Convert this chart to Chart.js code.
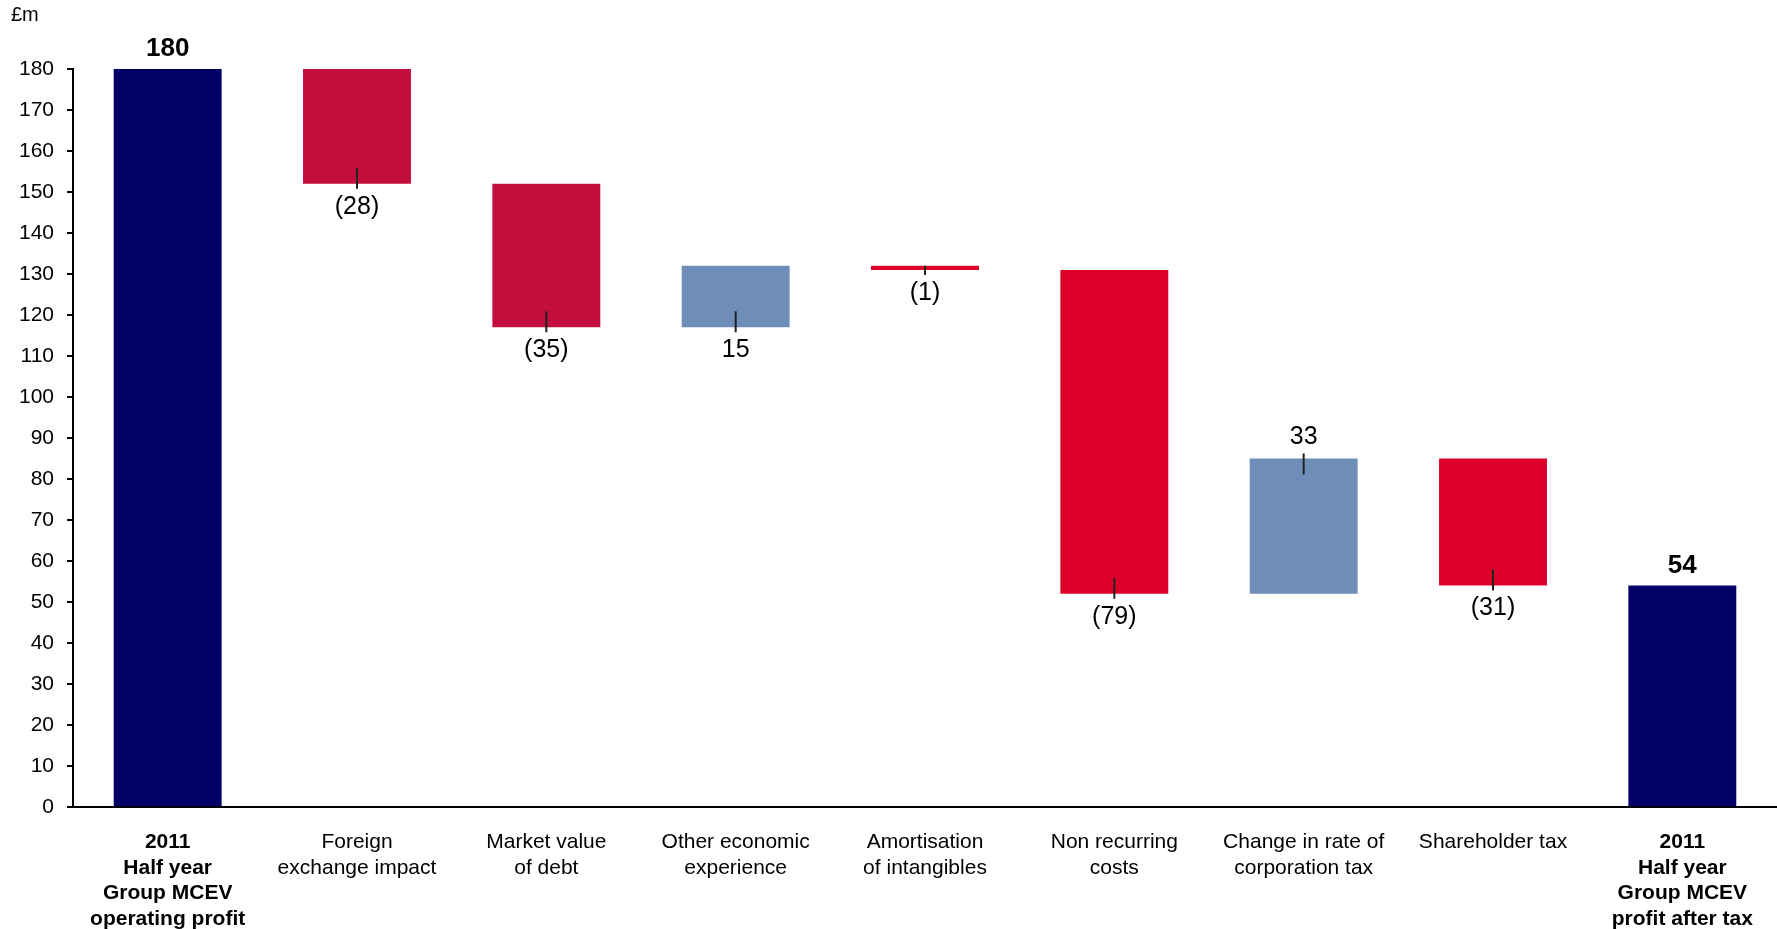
<!DOCTYPE html>
<html>
<head>
<meta charset="utf-8">
<script src="https://cdn.jsdelivr.net/npm/chart.js@4"></script>
<style>
    body { margin: 0; background: #fff; }
    #wrap { width: 1777px; height: 929px; }
</style>
</head>
<body>
<div id="wrap"><canvas id="myChart"></canvas></div>
<script>
// Bridge data (£m)
const categories = [
    ['2011', 'Half year', 'Group MCEV', 'operating profit'],
    ['Foreign', 'exchange impact'],
    ['Market value', 'of debt'],
    ['Other economic', 'experience'],
    ['Amortisation', 'of intangibles'],
    ['Non recurring', 'costs'],
    ['Change in rate of', 'corporation tax'],
    ['Shareholder tax'],
    ['2011', 'Half year', 'Group MCEV', 'profit after tax']
];
const openingTotal = 180;
const movements = [-28, -35, 15, -1, -79, 33, -31];
const closingTotal = 54;
const yTicks = [0, 10, 20, 30, 40, 50, 60, 70, 80, 90, 100, 110, 120, 130, 140, 150, 160, 170, 180];

// styling per bar
const NAVY = '#000066';
const CRIMSON = '#C20E3C';
const RED = '#DC0029';
const STEEL = '#6E8DB8';
const barColors = [NAVY, CRIMSON, CRIMSON, STEEL, RED, RED, STEEL, RED, NAVY];
const labelSide = ['above', 'below', 'below', 'below', 'below', 'below', 'above', 'below', 'above'];

// build floating ranges from the running total
const ranges = [[0, openingTotal]];
const labels = [String(openingTotal)];
let running = openingTotal;
movements.forEach(m => {
    ranges.push([running, running + m]);
    labels.push(m < 0 ? `(${Math.abs(m)})` : String(m));
    running += m;
});
ranges.push([0, closingTotal]);
labels.push(String(closingTotal));

const isTotal = i => i === 0 || i === categories.length - 1;
const FONT = '"Liberation Sans", Arial, sans-serif';

const bridgeLabels = {
    id: 'bridgeLabels',
    afterDatasetsDraw(chart) {
        const c = chart.ctx;
        const meta = chart.getDatasetMeta(0);
        c.save();
        // unit caption
        c.fillStyle = '#000';
        c.font = `20px ${FONT}`;
        c.textAlign = 'left';
        c.textBaseline = 'middle';
        c.fillText('£m', 11, 15);

        meta.data.forEach((bar, i) => {
            const top = Math.min(bar.y, bar.base);
            const bottom = Math.max(bar.y, bar.base);
            c.textAlign = 'center';
            c.textBaseline = 'middle';
            c.fillStyle = '#000';
            if (isTotal(i)) {
                c.font = `bold 26px ${FONT}`;
                c.fillText(labels[i], bar.x, top - 20);
                return;
            }
            c.font = `25px ${FONT}`;
            c.strokeStyle = '#222';
            c.lineWidth = 2;
            c.beginPath();
            if (labelSide[i] === 'above') {
                c.moveTo(bar.x, top - 5);
                c.lineTo(bar.x, Math.min(bottom, top + 16));
                c.stroke();
                c.fillText(labels[i], bar.x, top - 21);
            } else {
                c.moveTo(bar.x, Math.max(top, bottom - 16));
                c.lineTo(bar.x, bottom + 5);
                c.stroke();
                c.fillText(labels[i], bar.x, bottom + 23);
            }
        });
        c.restore();
    }
};

const ctx = document.getElementById('myChart');

new Chart(ctx, {
    type: 'bar',
    data: {
        labels: categories,
        datasets: [{
            data: ranges,
            backgroundColor: barColors,
            borderWidth: 0,
            categoryPercentage: 1,
            barPercentage: 0.57
        }]
    },
    options: {
        responsive: true,
        maintainAspectRatio: false,
        animation: false,
        layout: { padding: { top: 69, left: 0, right: 0, bottom: 0 } },
        plugins: {
            legend: { display: false },
            tooltip: { enabled: false }
        },
        scales: {
            x: {
                afterFit: (scale) => { scale.height = 122; },
                grid: { display: false, drawTicks: false },
                border: { display: true, color: '#000', width: 2 },
                ticks: {
                    color: '#000',
                    padding: 22,
                    maxRotation: 0,
                    autoSkip: false,
                    font: (c) => ({
                        family: FONT,
                        size: 21,
                        lineHeight: 1.23,
                        weight: isTotal(c.index) ? 'bold' : 'normal'
                    })
                }
            },
            y: {
                min: 0,
                max: 180,
                afterFit: (scale) => { scale.width = 73; },
                afterBuildTicks: (axis) => {
                    axis.ticks = yTicks.map(v => ({ value: v }));
                },
                grid: { drawOnChartArea: false, drawTicks: true, tickLength: 6, color: '#000', lineWidth: 2 },
                border: { display: true, color: '#000', width: 2 },
                ticks: {
                    color: '#000',
                    padding: 13,
                    font: { family: FONT, size: 21 }
                }
            }
        }
    },
    plugins: [bridgeLabels]
});
</script>
</body>
</html>
